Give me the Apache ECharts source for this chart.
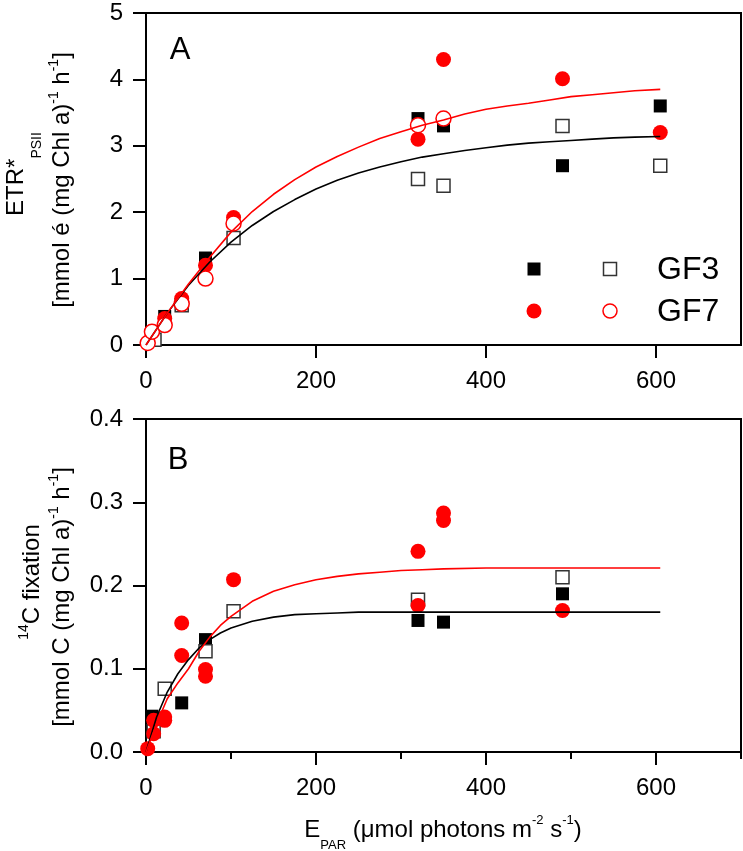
<!DOCTYPE html>
<html>
<head>
<meta charset="utf-8">
<script src="https://cdn.jsdelivr.net/npm/echarts@6/dist/echarts.min.js"></script>
<style>
html,body{margin:0;padding:0;background:#fff;}
#chart{width:743px;height:851px;}
</style>
</head>
<body>
<div id="chart"></div>
<script>
// ---------- Data ----------
// Panel A: ETR*PSII vs E_PAR
const etrGF3Closed = [[22,0.43],[70,1.31],[320,3.41],[350,3.30],[490,2.70],[605,3.60]];
const etrGF3Open   = [[10,0.08],[42,0.60],[103,1.61],[320,2.50],[350,2.40],[490,3.30],[605,2.70]];
const etrGF7Closed = [[22,0.40],[42,0.70],[70,1.20],[103,1.92],[320,3.10],[350,4.30],[490,4.01],[605,3.20]];
const etrGF7Open   = [[2,0.03],[7,0.20],[22,0.30],[42,0.62],[70,1.00],[103,1.83],[320,3.31],[350,3.41]];
// fitted curves, panel A
const fitAx    = [0,25,50,75,100,125,150,175,200,225,250,275,300,325,350,375,400,425,450,475,500,525,550,575,605];
const fitAGF3  = [0,0.48,0.90,1.25,1.55,1.80,2.01,2.19,2.35,2.48,2.59,2.68,2.76,2.83,2.88,2.93,2.97,3.01,3.04,3.06,3.08,3.10,3.12,3.13,3.14];
const fitAGF7  = [0,0.48,0.92,1.32,1.70,2.01,2.27,2.49,2.68,2.84,2.98,3.11,3.21,3.31,3.39,3.48,3.55,3.60,3.64,3.69,3.74,3.77,3.80,3.83,3.85];

// Panel B: 14C fixation vs E_PAR
const c14GF3Closed = [[7,0.043],[42,0.059],[70,0.135],[320,0.158],[350,0.156],[490,0.190]];
const c14GF3Open   = [[9,0.025],[22,0.076],[70,0.121],[103,0.169],[320,0.183],[490,0.210]];
const c14GF7Closed = [[2,0.004],[9,0.038],[9,0.022],[22,0.042],[22,0.038],[42,0.155],[42,0.116],
                      [70,0.099],[70,0.091],[103,0.207],[320,0.241],[320,0.176],[350,0.287],[350,0.278],[490,0.170]];
// fitted curves, panel B
const fitBx    = [0,12.5,25,37.5,50,62.5,75,87.5,100,125,150,175,200,225,250,275,300,325,350,400,450,500,550,605];
const fitBGF3  = [0,0.042,0.072,0.094,0.111,0.125,0.135,0.143,0.149,0.157,0.162,0.165,0.166,0.167,0.168,0.168,0.168,0.168,0.168,0.168,0.168,0.168,0.168,0.168];
const fitBGF7  = [0,0.034,0.064,0.083,0.100,0.121,0.138,0.152,0.163,0.181,0.193,0.201,0.207,0.211,0.214,0.216,0.218,0.219,0.220,0.221,0.221,0.221,0.221,0.221];

// Tick labels
const xMajorTicks = [0,200,400,600];
const xMinorTicks = [100,300,500,700];

// ---------- Chart ----------
const FONT = '"Liberation Sans", Arial, sans-serif';
const RED = '#ff0000';
const pairs = (xs, ys) => xs.map((x, i) => [x, ys[i]]);

const chart = echarts.init(document.getElementById('chart'), null, {renderer: 'canvas'});

const axisTextStyle = {color: '#000', fontSize: 24, fontFamily: FONT};

function xAxisMain(gridIndex) {
  return {
    gridIndex, type: 'value', min: 0, max: 700, interval: 100,
    axisLine: {show: true, onZero: false, lineStyle: {color: '#000', width: 2}},
    axisTick: {show: true, customValues: xMajorTicks, length: 13, lineStyle: {color: '#000', width: 2}},
    axisLabel: Object.assign({show: true, customValues: xMajorTicks, margin: 24}, axisTextStyle),
    splitLine: {show: false}
  };
}

function scatter(name, data, xi, yi, kind) {
  const s = {
    name, type: 'scatter', data, xAxisIndex: xi, yAxisIndex: yi, z: 2, clip: false,
    emphasis: {disabled: true}
  };
  if (kind === 'sqFilled') { s.symbol = 'rect'; s.symbolSize = 13; s.itemStyle = {color: '#000', opacity: 1}; }
  if (kind === 'sqOpen')   { s.symbol = 'rect'; s.symbolSize = 13; s.itemStyle = {color: '#fff', borderColor: '#333', borderWidth: 1.5, opacity: 1}; }
  if (kind === 'ciFilled') { s.symbol = 'circle'; s.symbolSize = 15; s.itemStyle = {color: RED, opacity: 1}; }
  if (kind === 'ciOpen')   { s.symbol = 'circle'; s.symbolSize = 15; s.itemStyle = {color: '#fff', borderColor: RED, borderWidth: 1.5, opacity: 1}; }
  return s;
}

function curve(name, data, xi, yi, color) {
  return {
    name, type: 'line', data, xAxisIndex: xi, yAxisIndex: yi, z: 3,
    showSymbol: false, symbol: 'none', smooth: false,
    lineStyle: {color, width: 1.6}, emphasis: {disabled: true}
  };
}

const option = {
  animation: false,
  backgroundColor: '#fff',
  grid: [
    {left: 146, top: 13, width: 595, height: 332, show: true, borderColor: '#000', borderWidth: 2, backgroundColor: 'transparent'},
    {left: 146, top: 419, width: 595, height: 333, show: true, borderColor: '#000', borderWidth: 2, backgroundColor: 'transparent'}
  ],
  xAxis: [
    xAxisMain(0),
    xAxisMain(1),
    { // minor ticks for panel B
      gridIndex: 1, type: 'value', min: 0, max: 700, interval: 100, position: 'bottom',
      axisLine: {show: false},
      axisTick: {show: true, customValues: xMinorTicks, length: 7, lineStyle: {color: '#000', width: 2}},
      axisLabel: {show: false},
      splitLine: {show: false}
    }
  ],
  yAxis: [
    {
      gridIndex: 0, type: 'value', min: 0, max: 5, interval: 1,
      axisLine: {show: true, onZero: false, lineStyle: {color: '#000', width: 2}},
      axisTick: {show: true, length: 13, lineStyle: {color: '#000', width: 2}},
      axisLabel: Object.assign({margin: 23}, axisTextStyle),
      splitLine: {show: false}
    },
    {
      gridIndex: 1, type: 'value', min: 0, max: 0.4, interval: 0.1,
      axisLine: {show: true, onZero: false, lineStyle: {color: '#000', width: 2}},
      axisTick: {show: true, length: 13, lineStyle: {color: '#000', width: 2}},
      axisLabel: Object.assign({margin: 23, formatter: v => v.toFixed(1)}, axisTextStyle),
      splitLine: {show: false}
    }
  ],
  series: [
    scatter('GF3 closed A', etrGF3Closed, 0, 0, 'sqFilled'),
    scatter('GF3 open A', etrGF3Open, 0, 0, 'sqOpen'),
    scatter('GF7 closed A', etrGF7Closed, 0, 0, 'ciFilled'),
    scatter('GF7 open A', etrGF7Open, 0, 0, 'ciOpen'),
    curve('GF3 fit A', pairs(fitAx, fitAGF3), 0, 0, '#000'),
    curve('GF7 fit A', pairs(fitAx, fitAGF7), 0, 0, RED),
    scatter('GF3 closed B', c14GF3Closed, 1, 1, 'sqFilled'),
    scatter('GF3 open B', c14GF3Open, 1, 1, 'sqOpen'),
    scatter('GF7 closed B', c14GF7Closed, 1, 1, 'ciFilled'),
    curve('GF3 fit B', pairs(fitBx, fitBGF3), 1, 1, '#000'),
    curve('GF7 fit B', pairs(fitBx, fitBGF7), 1, 1, RED)
  ],
  graphic: [
    // panel letters
    {type: 'text', x: 180, y: 50, style: {text: 'A', font: '31px ' + FONT, fill: '#000', align: 'center', verticalAlign: 'middle'}},
    {type: 'text', x: 178, y: 460, style: {text: 'B', font: '31px ' + FONT, fill: '#000', align: 'center', verticalAlign: 'middle'}},
    // legend (panel A)
    {type: 'rect', shape: {x: 527.5, y: 262.5, width: 13, height: 13}, style: {fill: '#000'}},
    {type: 'rect', shape: {x: 603.5, y: 262.5, width: 13, height: 13}, style: {fill: '#fff', stroke: '#333', lineWidth: 1.5}},
    {type: 'circle', shape: {cx: 534, cy: 311, r: 7.5}, style: {fill: RED}},
    {type: 'circle', shape: {cx: 610, cy: 311, r: 7}, style: {fill: '#fff', stroke: RED, lineWidth: 1.5}},
    {type: 'text', x: 657, y: 270, style: {text: 'GF3', font: '32px ' + FONT, fill: '#000', align: 'left', verticalAlign: 'middle'}},
    {type: 'text', x: 657, y: 312, style: {text: 'GF7', font: '32px ' + FONT, fill: '#000', align: 'left', verticalAlign: 'middle'}},
    // y-axis titles, panel A
    {type: 'text', x: 16, y: 174, rotation: Math.PI / 2, style: {
      text: '{m|ETR*}{s|PSII}', align: 'center', verticalAlign: 'middle',
      rich: {
        m: {fontSize: 24, fontFamily: FONT, fill: '#000', lineHeight: 28},
        s: {fontSize: 14, fontFamily: FONT, fill: '#000', lineHeight: 14, padding: [42, 0, 0, 0]}
      }}},
    {type: 'text', x: 62, y: 180, rotation: Math.PI / 2, style: {
      text: '{m|[mmol é (mg Chl a)}{p|-1}{m| h}{p|-1}{m|]}', align: 'center', verticalAlign: 'middle',
      rich: {
        m: {fontSize: 24, fontFamily: FONT, fill: '#000', lineHeight: 28},
        p: {fontSize: 14, fontFamily: FONT, fill: '#000', lineHeight: 14, padding: [0, 0, 16, 0]}
      }}},
    // y-axis titles, panel B
    {type: 'text', x: 32, y: 582, rotation: Math.PI / 2, style: {
      text: '{p|14}{m|C fixation}', align: 'center', verticalAlign: 'middle',
      rich: {
        m: {fontSize: 24, fontFamily: FONT, fill: '#000', lineHeight: 28},
        p: {fontSize: 14, fontFamily: FONT, fill: '#000', lineHeight: 14, padding: [0, 0, 16, 0]}
      }}},
    {type: 'text', x: 62, y: 597, rotation: Math.PI / 2, style: {
      text: '{m|[mmol C (mg Chl a)}{p|-1}{m| h}{p|-1}{m|]}', align: 'center', verticalAlign: 'middle',
      rich: {
        m: {fontSize: 24, fontFamily: FONT, fill: '#000', lineHeight: 28},
        p: {fontSize: 14, fontFamily: FONT, fill: '#000', lineHeight: 14, padding: [0, 0, 16, 0]}
      }}},
    // x-axis title
    {type: 'text', x: 443, y: 830, style: {
      text: '{m|E}{s|PAR}{m| (μmol photons m}{p|-2}{m| s}{p|-1}{m|)}', align: 'center', verticalAlign: 'middle',
      rich: {
        m: {fontSize: 24, fontFamily: FONT, fill: '#000', lineHeight: 28},
        s: {fontSize: 13, fontFamily: FONT, fill: '#000', lineHeight: 13, padding: [30, 0, 0, 0]},
        p: {fontSize: 13, fontFamily: FONT, fill: '#000', lineHeight: 13, padding: [0, 0, 20, 0]}
      }}}
  ]
};

chart.setOption(option);
</script>
</body>
</html>
